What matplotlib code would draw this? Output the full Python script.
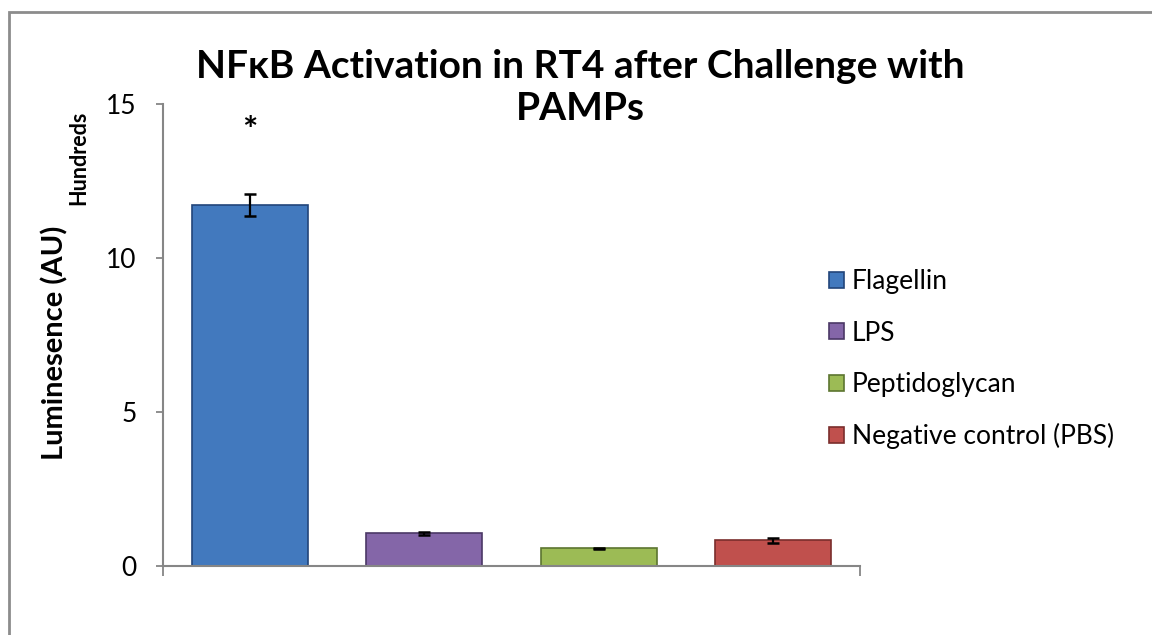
import matplotlib.pyplot as plt
from matplotlib.patches import Rectangle

plt.rcParams['font.family'] = ['Lato', 'DejaVu Sans']

labels = ["Flagellin", "LPS", "Peptidoglycan", "Negative control (PBS)"]
values = [11.72, 1.06, 0.57, 0.83]
errors = [0.37, 0.04, 0.03, 0.09]
colors = ["#4279BE", "#8466A8", "#9CBB55", "#C0504D"]
edges = ["#22457A", "#4B3866", "#5C7530", "#7A2E2C"]

fig = plt.figure(figsize=(11.52, 6.35), dpi=100)
ax = fig.add_axes([163 / 1152, 1 - 566 / 635, 697 / 1152, 462 / 635])

# outer chart frame
fig.patches.append(Rectangle((9 / 1152, -0.1), 1.2, 1 - 12 / 635 + 0.1,
                             transform=fig.transFigure, fill=False,
                             edgecolor="#8c8c8c", linewidth=2))

x = range(len(values))
for i in x:
    ax.bar(i, values[i], width=0.667, color=colors[i], edgecolor=edges[i],
           linewidth=1.2, label=labels[i], zorder=2)
    ax.errorbar(i, values[i], yerr=errors[i], fmt="none", ecolor="black",
                elinewidth=1.6, capsize=4.5, capthick=1.8, zorder=3)

ax.text(0, 14.1, "*", ha="center", va="center", fontsize=26, fontweight="bold")

ax.set_xlim(-0.5, 3.5)
ax.set_ylim(0, 15)
ax.set_yticks([0, 5, 10, 15])
ax.set_xticks([-0.5, 3.5])
ax.set_xticklabels([])
ax.tick_params(axis="y", labelsize=19, length=5, width=1.3, color="#868686", pad=14)
ax.tick_params(axis="x", length=7, width=1.3, color="#868686")
for s in ["top", "right"]:
    ax.spines[s].set_visible(False)
for s in ["left", "bottom"]:
    ax.spines[s].set_color("#868686")
    ax.spines[s].set_linewidth(1.5)

fig.text(55 / 1152, 1 - 343 / 635, "Luminesence (AU)", rotation=90, fontsize=21,
         fontweight="bold", ha="center", va="center")
fig.text(79 / 1152, 1 - 158 / 635, "Hundreds", rotation=90, fontsize=15.5,
         fontweight="bold", ha="center", va="center")

fig.text(580 / 1152, 1 - 66 / 635, "NFκB Activation in RT4 after Challenge with",
         fontsize=28, fontweight="bold", ha="center", va="center")
fig.text(580 / 1152, 1 - 108 / 635, "PAMPs", fontsize=28, fontweight="bold",
         ha="center", va="center")

leg = ax.legend(loc="upper left", bbox_to_anchor=(816 / 1152, 1 - 256 / 635),
                bbox_transform=fig.transFigure, frameon=False, fontsize=19,
                handlelength=0.55, handleheight=0.55, handletextpad=0.3,
                labelspacing=1.0, borderpad=0)

fig.savefig("out.png", dpi=100)
